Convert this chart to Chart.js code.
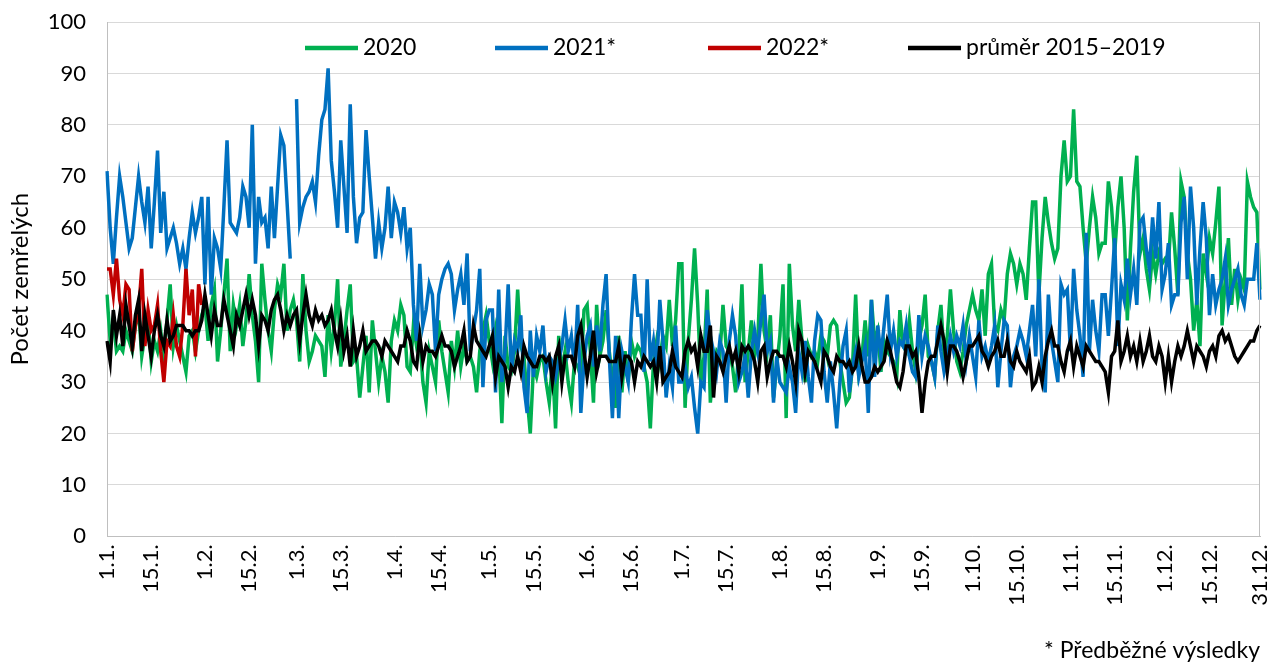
<!DOCTYPE html>
<html>
<head>
<meta charset="utf-8">
<script src="https://cdn.jsdelivr.net/npm/chart.js@4.4.0/dist/chart.umd.min.js"></script>
<style>
html,body{margin:0;padding:0;background:#fff;}
#wrap{width:1269px;height:664px;}
</style>
</head>
<body>
<div id="wrap"><canvas id="c" width="1269" height="664"></canvas></div>
<script>
// month lengths for the (leap-year) category axis
const monthDays = [31,29,31,30,31,30,31,31,30,31,30,31];
// which day-of-month values carry a tick label
const labelDays = [1, 15];
const seriesNames = ['2020', '2021*', '2022*', 'průměr 2015–2019'];
const seriesColors = ['#00b050', '#0070c0', '#c00000', '#000000'];
const yTitle = 'Počet zemřelých';
const footnote = '* Předběžné výsledky';
const yTicks = [0,10,20,30,40,50,60,70,80,90,100];

const y2020 = [
 47,38,42,36,37,36,40,38,36,41,44,35,39,42,34,38,36,40,35,42,49,37,41,38,35,32,39,40,36,
 40,43,45,38,45,48,34,40,47,54,36,45,41,45,37,42,51,43,38,30,53,46,40,36,44,49,47,53,40,44,46,
 42,34,51,40,34,36,39,38,37,31,43,36,41,50,33,38,44,49,34,35,27,33,39,28,42,36,30,35,32,26,
 38,42,40,45,43,33,32,41,37,39,30,26,36,33,30,42,36,32,28,38,33,40,33,37,34,35,33,28,36,40,43,
 38,34,40,36,22,39,33,32,36,48,37,35,27,20,33,31,34,35,30,26,34,21,39,32,36,30,26,34,33,31,44,
 45,36,26,45,35,38,44,36,31,25,39,28,36,30,38,35,37,36,33,30,21,34,38,34,39,37,46,37,42,53,
 53,25,38,46,56,45,30,35,48,26,33,36,35,45,37,36,33,28,36,49,30,36,42,35,38,53,40,36,43,27,33,
 39,49,23,53,41,36,46,38,30,37,35,36,34,39,38,35,41,42,41,34,30,26,27,33,47,32,35,42,35,46,38,
 40,32,38,36,35,34,31,44,37,36,42,36,32,38,41,47,35,34,31,40,45,35,39,48,40,34,32,36,41,44,
 47,44,42,48,39,51,53,41,40,44,42,51,55,53,49,53,51,46,56,65,65,47,58,66,61,57,54,56,70,77,69,
 70,83,69,68,60,53,60,66,62,55,57,57,69,64,55,64,70,60,42,56,67,74,55,58,52,48,55,51,55,53,54,
 53,63,56,47,69,66,55,50,40,46,37,55,51,58,55,61,68,41,50,58,45,52,46,50,48,69,66,64,63,48
];

const y2021 = [
 71,60,53,62,70,66,61,56,58,64,70,65,61,68,56,65,75,59,67,56,58,60,57,53,56,52,58,63,59,
 62,66,49,66,47,58,56,52,64,77,61,60,59,62,68,66,60,80,53,66,61,62,56,68,58,68,78,76,65,54,null,
 85,61,64,66,67,69,65,74,81,83,91,73,67,60,77,68,59,84,66,57,62,63,79,70,62,54,61,56,60,68,
 58,65,63,59,64,56,60,45,38,53,41,44,49,47,36,47,50,52,53,51,44,48,51,45,55,36,40,44,52,29,42,
 44,44,28,48,30,36,49,32,38,36,43,29,24,40,31,39,36,41,32,35,34,31,34,37,42,36,39,33,45,24,34,
 39,41,33,41,36,45,51,35,23,39,23,36,33,30,42,51,43,43,32,50,34,38,32,46,38,27,33,29,41,30,
 30,33,29,31,25,20,30,29,44,39,36,32,38,36,26,38,43,39,30,32,35,27,36,40,36,42,47,36,38,26,35,
 30,29,28,33,30,24,36,32,38,31,26,38,43,42,32,26,34,28,21,30,37,40,28,33,36,31,34,37,24,46,31,
 41,35,41,47,36,40,35,38,37,41,35,32,31,43,35,39,37,34,31,41,36,32,35,39,36,39,37,41,34,39,
 35,31,42,35,37,34,37,41,29,36,42,41,29,35,37,40,38,35,40,45,35,50,33,28,47,38,34,30,49,47,48,
 36,52,44,39,31,59,36,46,40,36,47,47,39,48,58,37,49,46,54,47,52,45,61,62,56,52,62,54,65,48,51,
 57,45,47,47,61,66,50,68,60,45,56,65,58,43,51,45,48,50,54,45,48,50,52,47,45,50,50,50,57,46
];

const y2022 = [
 52,52,47,54,46,43,49,48,36,41,44,52,37,44,40,41,45,36,30,38,37,43,37,35,41,52,43,48,35,49,45
];

const yAvg = [
 38,34,44,39,43,37,45,41,37,43,46,36,43,39,35,40,43,39,37,42,38,39,41,41,41,40,40,39,40,40,42,
 47,43,39,44,41,41,46,43,40,37,43,41,44,47,43,46,43,37,43,42,40,44,46,47,44,40,43,41,43,
 44,38,43,47,43,41,44,42,43,41,42,44,40,37,42,36,39,33,40,35,37,40,36,37,38,38,37,35,38,37,
 36,35,34,37,37,40,38,34,33,39,34,37,36,36,35,37,39,37,37,36,33,35,37,40,34,35,41,38,37,36,35,
 37,39,31,35,34,33,29,33,32,35,32,37,35,34,33,33,35,35,34,35,30,35,37,30,35,35,35,33,39,41,36,
 31,35,40,32,35,35,35,34,34,34,37,31,35,35,34,30,34,33,35,34,33,34,30,37,30,31,32,36,33,32,
 31,36,38,36,37,33,39,36,36,41,27,35,34,32,35,37,34,36,32,37,36,37,36,34,30,36,37,31,34,36,36,
 35,35,33,37,34,30,40,38,32,36,35,34,32,30,36,35,33,32,35,34,34,33,34,32,33,37,33,30,30,31,33,
 32,33,34,38,36,33,30,29,32,37,37,35,36,31,24,30,34,35,35,38,41,38,32,37,37,36,34,31,34,37,
 37,38,39,36,35,33,35,36,38,35,35,38,34,33,36,34,33,32,35,29,30,33,30,35,38,40,37,37,34,32,36,
 38,33,37,35,33,37,36,35,34,34,33,32,28,35,36,42,34,36,39,35,37,34,38,34,36,39,35,34,37,35,30,
 35,30,34,37,35,37,40,37,34,37,36,35,33,36,37,35,39,40,38,39,37,35,34,35,36,37,38,38,40,41
];

// category labels d.m. for every day
const labels = [];
monthDays.forEach((n, m) => { for (let d = 1; d <= n; d++) labels.push(d + '.' + (m + 1) + '.'); });
const lastIndex = labels.length - 1;

const FONT = 'Lato, "Open Sans", sans-serif';
// legend item offsets from the left edge of the plot area (style only)
const legendOffsets = [198, 388, 601, 801];

const insideLegend = {
  id: 'insideLegend',
  afterDraw(chart) {
    const ctx = chart.ctx;
    const ca = chart.chartArea;
    ctx.save();
    // right border of plot area
    ctx.strokeStyle = '#bfbfbf';
    ctx.lineWidth = 1;
    ctx.beginPath();
    ctx.moveTo(Math.round(ca.right) - 0.5, ca.top);
    ctx.lineTo(Math.round(ca.right) - 0.5, ca.bottom);
    ctx.stroke();
    // legend
    ctx.font = '23px ' + FONT;
    ctx.textBaseline = 'middle';
    ctx.textAlign = 'left';
    const y = ca.top + 26;
    chart.data.datasets.forEach((ds, i) => {
      const x = ca.left + legendOffsets[i];
      ctx.strokeStyle = ds.borderColor;
      ctx.lineWidth = 4.5;
      ctx.beginPath();
      ctx.moveTo(x, y);
      ctx.lineTo(x + 53, y);
      ctx.stroke();
      ctx.fillStyle = '#000';
      ctx.fillText(ds.label, x + 58, y);
    });
    ctx.restore();
  }
};

const mk = (i, data, order) => ({
  label: seriesNames[i],
  data: data,
  borderColor: seriesColors[i],
  backgroundColor: seriesColors[i],
  borderWidth: 3.5,
  pointRadius: 0,
  tension: 0,
  spanGaps: false,
  order: order
});

new Chart(document.getElementById('c'), {
  type: 'line',
  data: {
    labels: labels,
    datasets: [mk(0, y2020, 4), mk(1, y2021, 3), mk(2, y2022, 2), mk(3, yAvg, 1)]
  },
  plugins: [insideLegend],
  options: {
    responsive: false,
    animation: false,
    layout: { padding: { left: 0, right: 9, top: 22, bottom: 0 } },
    plugins: {
      legend: { display: false },
      tooltip: { enabled: false },
      title: {
        display: true,
        text: footnote,
        position: 'bottom',
        align: 'end',
        color: '#000',
        font: { family: FONT, size: 23, weight: 'normal' },
        padding: { top: 16, bottom: 0 }
      }
    },
    scales: {
      x: {
        type: 'category',
        offset: false,
        grid: { display: false, drawTicks: false },
        border: { display: true, color: '#bfbfbf', width: 1 },
        ticks: {
          autoSkip: false,
          minRotation: 90,
          maxRotation: 90,
          padding: 8,
          color: '#000',
          font: { family: FONT, size: 22 },
          callback: function (v, i) {
            const lab = labels[i];
            const d = parseInt(lab, 10);
            if (labelDays.includes(d) || i === lastIndex) return lab;
            return null;
          }
        },
        afterFit: s => { s.height = 84; s.paddingRight = 0; s.paddingLeft = 0; }
      },
      y: {
        min: 0,
        max: 100,
        afterBuildTicks: s => { s.ticks = yTicks.map(v => ({ value: v })); },
        grid: { color: '#d9d9d9', lineWidth: 1, drawTicks: false },
        border: { display: true, color: '#bfbfbf', width: 1 },
        ticks: { color: '#000', padding: 21, font: { family: FONT, size: 22 } },
        title: {
          display: true,
          text: yTitle,
          color: '#000',
          font: { family: FONT, size: 24 },
          padding: { top: 6, bottom: 0 }
        },
        afterFit: s => { s.width = 107; s.paddingTop = 0; s.paddingBottom = 0; }
      }
    }
  }
});
</script>
</body>
</html>
